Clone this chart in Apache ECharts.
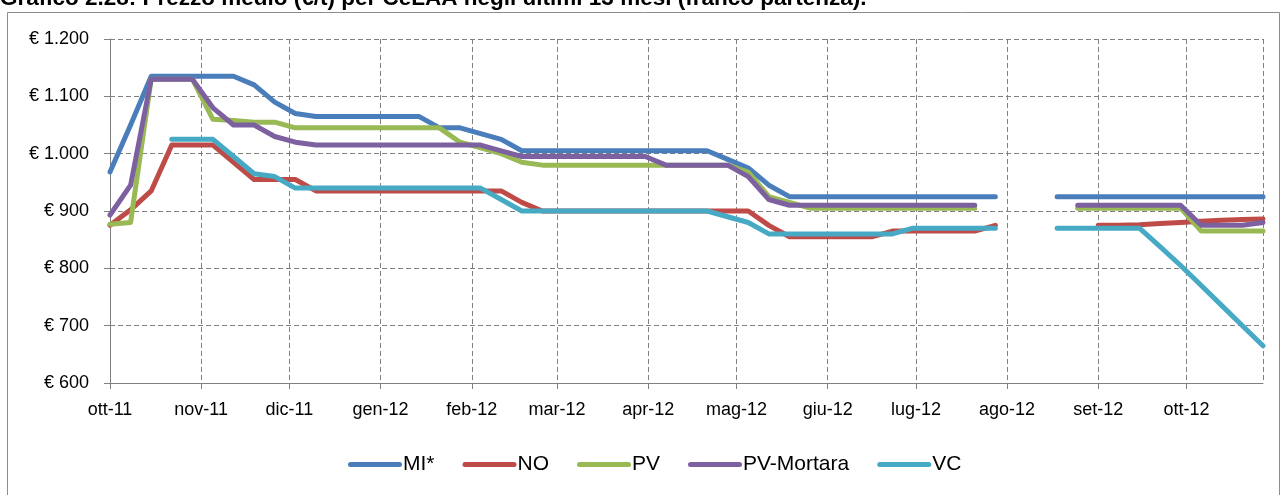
<!DOCTYPE html>
<html>
<head>
<meta charset="utf-8">
<script src="https://cdn.jsdelivr.net/npm/echarts@6/dist/echarts.min.js"></script>
<style>
html,body{margin:0;padding:0;background:#fff;}
#chart{width:1282px;height:495px;}
</style>
</head>
<body>
<div id="chart"></div>
<script>
// Weekly observation dates
const dates = [
 '2011-10-01','2011-10-08','2011-10-15','2011-10-22','2011-10-29','2011-11-05','2011-11-12','2011-11-19','2011-11-26',
 '2011-12-03','2011-12-10','2011-12-17','2011-12-24','2011-12-31','2012-01-07','2012-01-14','2012-01-21','2012-01-28',
 '2012-02-04','2012-02-11','2012-02-18','2012-02-25','2012-03-03','2012-03-10','2012-03-17','2012-03-24','2012-03-31',
 '2012-04-07','2012-04-14','2012-04-21','2012-04-28','2012-05-05','2012-05-12','2012-05-19','2012-05-26','2012-06-02',
 '2012-06-09','2012-06-16','2012-06-23','2012-06-30','2012-07-07','2012-07-14','2012-07-21','2012-07-28','2012-08-04',
 '2012-08-11','2012-08-18','2012-08-25','2012-09-01','2012-09-08','2012-09-15','2012-09-22','2012-09-29','2012-10-06',
 '2012-10-13','2012-10-20','2012-10-27'
];
const seriesNames = ['MI*','NO','PV','PV-Mortara','VC'];
const monthNames = ['gen','feb','mar','apr','mag','giu','lug','ago','set','ott','nov','dic'];

const MI = [968,1050,1135,1135,1135,1135,1135,1120,1090,1070,1065,1065,1065,1065,1065,1065,1045,1045,1035,1025,
 1005,1005,1005,1005,1005,1005,1005,1005,1005,1005,990,975,945,925,925,925,925,925,925,925,925,925,925,925,null,null,
 925,925,925,925,925,925,925,925,925,925,925];
const NO = [875,902,935,1015,1015,1015,985,955,955,955,935,935,935,935,935,935,935,935,935,935,
 915,900,900,900,900,900,900,900,900,900,900,900,875,855,855,855,855,855,865,865,865,865,865,875,null,null,
 null,null,875,875,876,878,880,882,884,885,886];
const PV = [877,880,1130,1130,1130,1060,1058,1055,1055,1045,1045,1045,1045,1045,1045,1045,1045,1020,1010,1000,
 985,980,980,980,980,980,980,980,980,980,980,968,925,915,905,905,905,905,905,905,905,905,905,null,null,null,
 null,905,905,905,905,905,905,865,865,865,865];
const PVM = [893,945,1130,1130,1130,1080,1050,1050,1030,1020,1015,1015,1015,1015,1015,1015,1015,1015,1015,1005,
 995,995,995,995,995,995,995,980,980,980,980,960,920,910,910,910,910,910,910,910,910,910,910,null,null,null,
 null,910,910,910,910,910,910,875,875,875,880];
const VC = [null,null,null,1025,1025,1025,995,965,960,940,940,940,940,940,940,940,940,940,940,920,
 900,900,900,900,900,900,900,900,900,900,890,880,860,860,860,860,860,860,860,870,870,870,870,870,null,null,
 870,870,870,870,870,838,805,770,735,700,665];

const colors = ['#4A7EBB','#BE4B48','#98B954','#7D60A0','#46AAC5'];
const allValues = [MI, NO, PV, PVM, VC];

function pairs(vals){ return dates.map((d,i)=>[d, vals[i]==null ? '-' : vals[i]]); }
function euro(v){
  if (v >= 1000) { return '€ ' + Math.floor(v/1000) + '.' + String(v%1000).padStart(3,'0'); }
  return '€ ' + v;
}
const FONT = '"Liberation Sans", Arial, sans-serif';
const grey = '#808080';
const lineIcon = 'path://M2.5,0H51.5A2.5,2.5,0,0,1,51.5,5H2.5A2.5,2.5,0,0,1,2.5,0Z';

const chart = echarts.init(document.getElementById('chart'), null, {renderer:'canvas'});
chart.setOption({
  animation:false,
  color: colors,
  graphic:[
    {type:'rect', shape:{x:7.5,y:12.5,width:1272,height:520}, style:{fill:'none',stroke:'#8c8c8c',lineWidth:1}, silent:true, z:-1},
    {type:'text', style:{x:0,y:10,text:'Grafico 2.28: Prezzo medio (€/t) per CeLAA negli ultimi 13 mesi (franco partenza).',
      font:'bold 22.5px ' + FONT, fill:'#000', verticalAlign:'bottom'}}
  ],
  grid:{left:110, right:19, top:39, bottom:112, outerBoundsMode:'none'},
  legend:{
    data: seriesNames.map(n=>({name:n, icon:lineIcon})), left:343, top:449, itemWidth:54, itemHeight:5, itemGap:28,
    textStyle:{fontFamily:FONT, fontSize:21, color:'#000', padding:[0,0,0,-4]}
  },
  xAxis:{
    type:'time', min:'2011-10-01', max:'2012-10-27',
    splitNumber:14, minInterval:28*86400000, maxInterval:31*86400000,
    axisLine:{lineStyle:{color:grey,width:1}},
    axisTick:{show:true, length:6, lineStyle:{color:grey}},
    splitLine:{show:true, lineStyle:{color:grey, type:[5,3], width:1}},
    axisLabel:{
      fontFamily:FONT, fontSize:18, color:'#000', margin:18, showMinLabel:true,
      formatter:function(v){ const d = new Date(v); return monthNames[d.getMonth()] + '-' + String(d.getFullYear()).slice(2); }
    }
  },
  yAxis:{
    type:'value', min:600, max:1200, interval:100,
    axisLine:{show:true, lineStyle:{color:grey,width:1}},
    axisTick:{show:true, length:6, lineStyle:{color:grey}},
    splitLine:{show:true, lineStyle:{color:grey, type:[5,3], width:1}},
    axisLabel:{fontFamily:FONT, fontSize:18, color:'#000', margin:21, formatter:euro}
  },
  series: seriesNames.map((n,i)=>({
    name:n, type:'line', data:pairs(allValues[i]), symbol:'none', showSymbol:false,
    connectNulls:false,
    lineStyle:{width:5, color:colors[i], cap:'round', join:'round'},
    itemStyle:{color:colors[i]}
  }))
});
</script>
</body>
</html>
